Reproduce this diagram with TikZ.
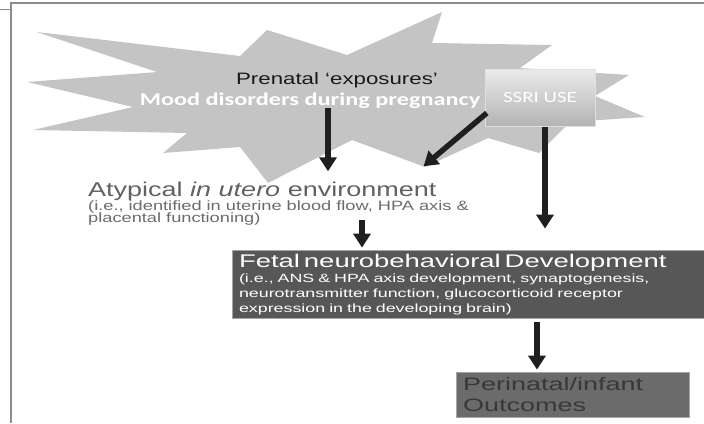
\documentclass[tikz,border=0pt]{standalone}
\usepackage{fontspec}
\setmainfont{Liberation Sans}
\newfontfamily\widesf[FakeStretch=1.35]{Liberation Sans}
\newfontfamily\widersf[FakeStretch=1.5]{Liberation Sans}
\newfontfamily\calwide[FakeStretch=1.35]{Carlito}
\newcommand\tightlines{\setlength{\lineskiplimit}{-6pt}}
\usetikzlibrary{arrows.meta,calc}
\tikzset{
  frame/.style={draw=black!45, line width=1.3pt},
  burst/.style={fill=black!23},
  lbl/.style={inner sep=0pt, anchor=base},
  ssribox/.style={rectangle, minimum width=110pt, minimum height=57pt,
    top color=black!8, bottom color=black!30, draw=black!12,
    text=white, font=\calwide\fontsize{15.5}{17}\selectfont},
  greybox/.style={rectangle, draw=black!35, line width=0.8pt,
    align=left, inner xsep=7pt, inner ysep=0pt},
  arr/.style={-{Triangle[width=17pt,length=14pt]}, line width=5.5pt, draw=black!88}
}

\begin{document}
\begin{tikzpicture}[x=1pt, y=-1pt]
  \useasboundingbox (0,0) rectangle (704,423);

  % page frame
  \draw[frame] (10,3) -- (704,3);
  \draw[frame] (11,3) -- (11,423);
  \draw[frame, line width=0.8pt] (0,9) -- (11,9);

  % exposure burst
  \fill[burst] (37,32) -- (240,56) -- (267,30) -- (347,55) -- (442,12)
    -- (432,43) -- (552,45) -- (520,68) -- (629,75) -- (595,96)
    -- (645,117) -- (570,122) -- (539,153) -- (488,138) -- (425,167)
    -- (352,140) -- (268,183) -- (240,147) -- (163,153) -- (187,133)
    -- (33,130) -- (133,107) -- (27,82) -- (157,72) -- cycle;

  \node[lbl, text=black!90, font=\widesf\fontsize{16.5}{18}\selectfont]
    (prenat) at (337,84) {Prenatal ‘exposures’};
  \node[lbl, text=white, font=\calwide\bfseries\fontsize{18}{20}\selectfont]
    (mood) at (310,105) {Mood disorders during pregnancy};
  \node[ssribox] (ssri) at (540,98) {SSRI USE};

  % in utero environment
  \node[lbl, anchor=base west, text=black!62, font=\widesf\fontsize{20}{22}\selectfont]
    (atyp) at (88,196) {Atypical \textit{in utero} environment};
  \node[lbl, anchor=base west, align=left, text=black!58,
        font=\widesf\fontsize{13.5}{12}\selectfont\tightlines]
    (atypnote) at (88,222) {(i.e., identified in uterine blood flow, HPA axis \&\\placental functioning)};

  % development and outcomes
  \node[greybox, fill=black!66, text=white, minimum width=472pt, minimum height=68pt,
        text width=458pt, font=\widersf\fontsize{11.9}{15}\selectfont]
    (fetal) at (468,284)
    {\rule{0pt}{14pt}\mbox{\fontsize{18.3}{15}\selectfont Fetal neurobehavioral Development}\\
     (i.e., ANS \& HPA axis development, synaptogenesis,\\
     neurotransmitter function, glucocorticoid receptor\\
     expression in the developing brain)};
  \node[greybox, fill=black!58, text=black!78, minimum width=231pt, minimum height=45pt,
        text width=219pt, font=\widersf\fontsize{18}{21}\selectfont]
    (outc) at (572.5,394.5) {Perinatal/infant\\Outcomes};

  \draw[arr] ($(mood.south)+(18,0)$) -- ($(mood.south |- atyp.north)+(18,-10)$);
  \draw[arr] ($(ssri.west)+(2,15)$) -- ($(atyp.north east)+(-13,-15)$);
  \draw[arr] ($(ssri.south)+(5,0)$) -- ($(ssri.south |- fetal.north)+(5,-21)$);
  \draw[arr] ($(atypnote.south -| fetal.north)+(-106,-5)$) -- ($(fetal.north)+(-106,-2)$);
  \draw[arr] ($(fetal.south)+(69,4)$) -- ($(fetal.south |- outc.north)+(69,-2)$);

\end{tikzpicture}
\end{document}
